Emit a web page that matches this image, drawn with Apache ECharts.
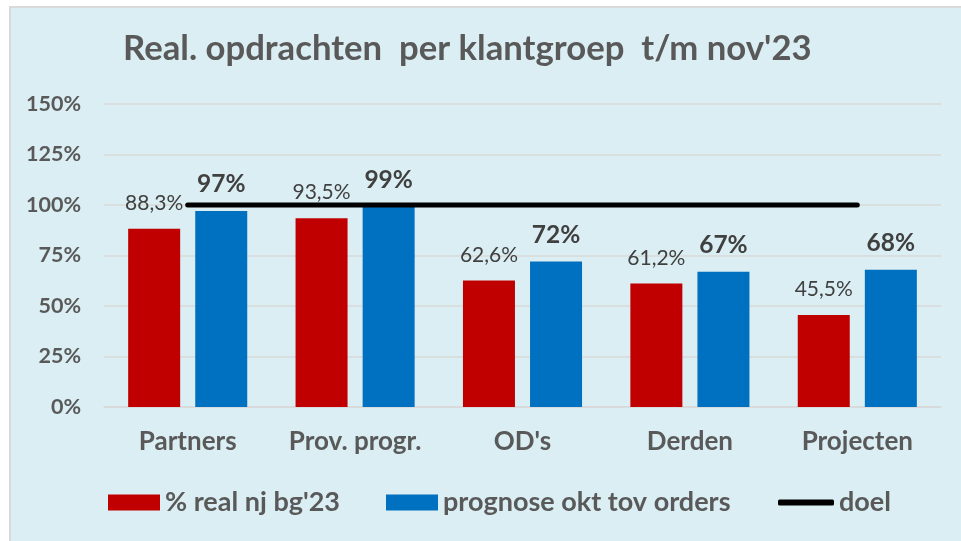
<!DOCTYPE html>
<html>
<head>
<meta charset="utf-8">
<script src="https://cdn.jsdelivr.net/npm/echarts@6/dist/echarts.min.js"></script>
<style>
  html, body { margin: 0; padding: 0; background: #ffffff; }
  #bg {
    position: absolute; left: 9px; top: 6px; width: 960px; height: 540px;
    background: #DAEEF3; border-left: 2px solid #D9D9D9; border-top: 2px solid #D9D9D9;
  }
  #chart { position: absolute; left: 0; top: 0; width: 961px; height: 541px; }
</style>
</head>
<body>
<div id="bg"></div>
<div id="chart"></div>
<script>
const categories = ['Partners', 'Prov. progr.', "OD's", 'Derden', 'Projecten'];
const realValues = [88.3, 93.5, 62.6, 61.2, 45.5];
const prognoseValues = [97, 99, 72, 67, 68];
const doelValues = [100, 100, 100, 100, 100];
const yTicks = [0, 25, 50, 75, 100, 125, 150];

const font = 'Lato, "Noto Sans", sans-serif';
const grey = '#595959';

const chart = echarts.init(document.getElementById('chart'), null, { renderer: 'canvas' });

const legendText = { fontFamily: font, fontSize: 27, fontWeight: 'bold', color: grey };

const option = {
  backgroundColor: 'transparent',
  animation: false,
  textStyle: { fontFamily: font },
  title: {
    text: "Real. opdrachten  per klantgroep  t/m nov'23",
    left: 118,
    top: 26,
    textStyle: { fontFamily: font, fontSize: 34.7, fontWeight: 'bold', color: grey }
  },
  legend: [
    {
      data: [{ name: "% real nj bg'23", icon: 'rect' }],
      left: 103, top: 484,
      itemWidth: 52, itemHeight: 16,
      textStyle: legendText
    },
    {
      data: [{ name: 'prognose okt tov orders', icon: 'rect' }],
      left: 381, top: 484,
      itemWidth: 52, itemHeight: 16,
      textStyle: legendText
    },
    {
      data: [{ name: 'doel', icon: 'roundRect' }],
      left: 773, top: 484,
      itemWidth: 56, itemHeight: 6,
      textStyle: legendText
    }
  ],
  grid: { left: 104, right: 20, top: 104, bottom: 134, containLabel: false },
  xAxis: {
    type: 'category',
    data: categories,
    axisLine: { show: true, lineStyle: { color: '#D9D9D9', width: 1.5 } },
    axisTick: { show: false },
    axisLabel: { interval: 0, fontFamily: font, fontSize: 26, fontWeight: 'bold', color: grey, margin: 22 }
  },
  yAxis: {
    type: 'value',
    min: 0,
    max: 150,
    interval: 25,
    axisLine: { show: false },
    axisTick: { show: false },
    splitLine: { lineStyle: { color: '#D9D9D9', width: 1.5 } },
    axisLabel: {
      fontFamily: font, fontSize: 21.5, fontWeight: 'bold', color: grey, margin: 23,
      formatter: v => (yTicks.includes(v) ? v + '%' : '')
    }
  },
  series: [
    {
      name: "% real nj bg'23",
      type: 'bar',
      data: realValues,
      barWidth: 52,
      barGap: '29%',
      itemStyle: { color: '#C00000' },
      label: {
        show: true, position: 'top', distance: 15,
        fontFamily: font, fontSize: 21, color: '#404040',
        formatter: p => p.value.toFixed(1).replace('.', ',') + '%'
      }
    },
    {
      name: 'prognose okt tov orders',
      type: 'bar',
      data: prognoseValues,
      barWidth: 52,
      itemStyle: { color: '#0070C0' },
      label: {
        show: true, position: 'top', distance: 14,
        fontFamily: font, fontSize: 24.5, fontWeight: 'bold', color: '#404040',
        formatter: p => Math.round(p.value) + '%'
      }
    },
    {
      name: 'doel',
      type: 'line',
      data: doelValues,
      symbol: 'none',
      z: 5,
      lineStyle: { color: '#000000', width: 5, cap: 'round' },
      itemStyle: { color: '#000000' }
    }
  ]
};

chart.setOption(option);
</script>
</body>
</html>
